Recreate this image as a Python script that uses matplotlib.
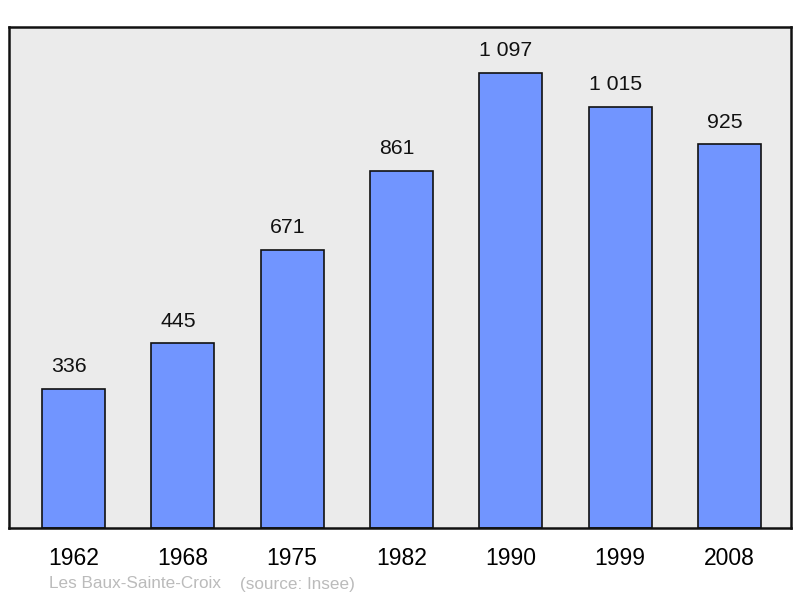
import matplotlib.pyplot as plt

plt.rcParams['font.family'] = ['Liberation Sans', 'DejaVu Sans']

years = ["1962", "1968", "1975", "1982", "1990", "1999", "2008"]
population = [336, 445, 671, 861, 1097, 1015, 925]
labels = ["336", "445", "671", "861", "1 097", "1 015", "925"]

fig = plt.figure(figsize=(8, 5.98), dpi=100)
ax = fig.add_axes([9/800, 70/598, 782/800, 501/598])
ax.set_facecolor("#ebebeb")

x = list(range(len(years)))
ax.bar(x, population, width=0.576, color="#7195ff", edgecolor="#111111", linewidth=1.2, zorder=2)
for xi, v, lab in zip(x, population, labels):
    ax.annotate(lab, (xi, v), xytext=(-3.6, 16), textcoords="offset points",
                ha="center", va="center", fontsize=15.3, color="#111111")

ax.set_xlim(-0.59, 6.563)
ax.set_ylim(0, 1208)
ax.set_xticks(x)
ax.set_xticklabels(years, fontsize=16.5)
ax.tick_params(axis="x", length=0, pad=13.5)
ax.set_yticks([])
for s in ax.spines.values():
    s.set_linewidth(1.8)
    s.set_color("#111111")

fig.text(49/800, 1 - 584/598, "Les Baux-Sainte-Croix", fontsize=12.3, color="#bbbbbb", va="center")
fig.text(240/800, 1 - 584/598, "(source: Insee)", fontsize=12.3, color="#bbbbbb", va="center")

fig.savefig("out.png", dpi=100)
